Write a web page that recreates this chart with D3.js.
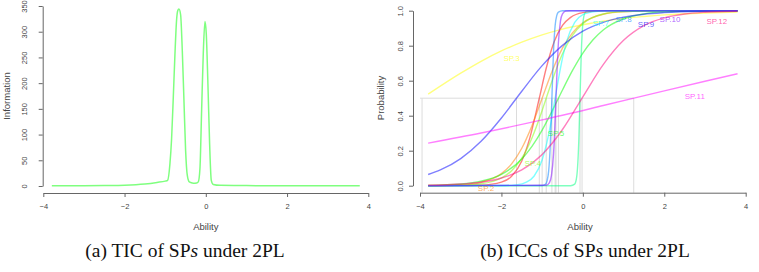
<!DOCTYPE html>
<html><head><meta charset="utf-8">
<script src="https://cdn.jsdelivr.net/npm/d3@7"></script>
<style>
body{margin:0;background:#fff}
svg{display:block}
text{font-family:"Liberation Sans",Arial,sans-serif}
</style>
</head><body>
<svg id="c" width="759" height="272"></svg>
<script>
// ---------- data ----------
const xTicks = [-4, -2, 0, 2, 4];
const infoTicks = [0, 50, 100, 150, 200, 250, 300, 350];
const probTicks = [0, 0.2, 0.4, 0.6, 0.8, 1.0];

// Test information curve (ability, information)
const ticPoints = [
  [-3.79,0.3],[-3,0.5],[-2.5,0.9],[-2,1.6],[-1.5,4],[-1.2,7],[-1.0,9.5],[-0.94,11],
  [-0.883,43],[-0.842,92],[-0.80,173],[-0.76,255],[-0.719,323],[-0.69,341],[-0.661,344],
  [-0.62,333],[-0.579,264],[-0.538,167],[-0.497,69],[-0.456,21],[-0.407,8],[-0.308,5.5],
  [-0.226,6],[-0.185,8],[-0.144,34],[-0.103,147],[-0.062,258],[-0.021,320],[0.011,297],
  [0.052,199],[0.094,82],[0.135,11],[0.184,3],[0.35,1.3],[1,0.8],[2,0.5],[3,0.4],[3.79,0.3]
];

// Item characteristic curves (ability, probability)
const items = ["SP.1","SP.2","SP.3","SP.4","SP.5","SP.6","SP.7","SP.8","SP.9","SP.10","SP.11","SP.12"];
const sp1  = [[-3.8,0],[-3,0.0003],[-2.5,0.0025],[-2,0.020],[-1.75,0.054],[-1.5,0.141],[-1.3,0.275],[-1.07,0.5],[-0.9,0.671],[-0.7,0.825],[-0.5,0.916],[-0.3,0.962],[0,0.989],[0.5,0.999],[1,1],[3.8,1]];
const sp2  = [[-3.8,0.001],[-3,0.0055],[-2.5,0.020],[-2,0.069],[-1.75,0.125],[-1.5,0.214],[-1.25,0.343],[-1,0.5],[-0.75,0.657],[-0.5,0.786],[-0.25,0.875],[0,0.931],[0.5,0.980],[1,0.994],[2,0.999],[3.8,1]];
const sp3  = [[-3.8,0.523],[-3,0.643],[-2.5,0.711],[-2,0.770],[-1.5,0.820],[-1,0.862],[-0.5,0.895],[0,0.920],[0.5,0.940],[1,0.956],[1.5,0.967],[2,0.976],[3,0.987],[3.8,0.992]];
const sp4  = [[-3.8,0],[-3,0.003],[-2.5,0.011],[-2,0.044],[-1.75,0.085],[-1.5,0.157],[-1.25,0.273],[-1,0.430],[-0.9,0.5],[-0.75,0.603],[-0.5,0.754],[-0.25,0.861],[0,0.926],[0.5,0.981],[1,0.995],[2,1],[3.8,1]];
const sp5  = [[-3.8,0.002],[-3,0.010],[-2.5,0.026],[-2,0.065],[-1.5,0.153],[-1.25,0.225],[-1,0.318],[-0.75,0.429],[-0.5,0.547],[-0.25,0.660],[0,0.758],[0.25,0.834],[0.5,0.890],[1,0.954],[1.5,0.982],[2,0.993],[3,0.999],[3.8,1]];
const sp6  = [[-3.8,0],[-0.3,0],[-0.2,0.009],[-0.15,0.053],[-0.1,0.254],[-0.07,0.5],[-0.04,0.746],[0,0.926],[0.05,0.987],[0.1,0.998],[0.3,1],[3.8,1]];
const sp7  = [[-3.8,0],[-2,0.001],[-1.6,0.006],[-1.4,0.019],[-1.2,0.054],[-1,0.147],[-0.9,0.230],[-0.8,0.341],[-0.68,0.5],[-0.6,0.608],[-0.5,0.729],[-0.4,0.823],[-0.2,0.933],[0,0.977],[0.3,0.995],[0.6,0.999],[3.8,1]];
const sp8  = [[-3.8,0],[-1,0.001],[-0.92,0.008],[-0.88,0.027],[-0.84,0.083],[-0.8,0.231],[-0.78,0.354],[-0.76,0.5],[-0.74,0.646],[-0.72,0.769],[-0.68,0.917],[-0.64,0.973],[-0.6,0.992],[-0.5,1],[3.8,1]];
const sp9  = [[-3.8,0.064],[-3.5,0.090],[-3,0.155],[-2.5,0.254],[-2,0.387],[-1.5,0.540],[-1,0.686],[-0.5,0.802],[0,0.883],[0.5,0.933],[1,0.963],[1.5,0.980],[2,0.989],[3,0.997],[3.8,0.999]];
const sp10 = [[-3.8,0],[-0.9,0.0025],[-0.82,0.018],[-0.77,0.060],[-0.72,0.182],[-0.68,0.378],[-0.66,0.5],[-0.64,0.622],[-0.6,0.818],[-0.55,0.940],[-0.5,0.982],[-0.42,0.998],[-0.3,1],[3.8,1]];
const sp11 = [[-3.8,0.243],[-2.5,0.301],[-1,0.376],[0.5,0.458],[2,0.542],[3,0.597],[3.8,0.640]];
const sp12 = [[-3.8,0.003],[-3,0.0095],[-2.5,0.020],[-2,0.044],[-1.5,0.090],[-1,0.178],[-0.5,0.321],[0,0.508],[0.5,0.692],[1,0.831],[1.5,0.915],[2,0.959],[2.5,0.981],[3,0.991],[3.8,0.997]];
const curves = [sp1,sp2,sp3,sp4,sp5,sp6,sp7,sp8,sp9,sp10,sp11,sp12];
// ability where P = 0.5 (grey guide lines)
const difficulty = [-1.07,-1.0,-3.95,-0.9,-0.6,-0.07,-0.68,-0.76,-1.63,-0.66,1.25,-0.02];
// label anchors (ability, probability); null = not visible
const labelAt = [[-2.95,-0.055],[-2.38,-0.014],[-1.75,0.73],[-1.23,0.13],[-0.66,0.30],null,
                 [0.44,0.93],[1.0,0.95],[1.55,0.924],[2.14,0.95],[2.75,0.51],[3.29,0.94]];

// ---------- drawing ----------
const colors = ["#FF0000","#FF8000","#FFFF00","#80FF00","#00FF00","#00FF80",
                "#00FFFF","#0080FF","#0000FF","#8000FF","#FF00FF","#FF0080"];
const svg = d3.select("#c");
svg.append("rect").attr("width",759).attr("height",272).attr("fill","#fff");
const axisCol = "#666", textCol = "#444";

function styleAxis(g, fs){
  g.select(".domain").attr("stroke",axisCol);
  g.selectAll(".tick line").attr("stroke",axisCol);
  g.selectAll(".tick text").attr("fill",textCol).style("font-size",fs+"px").style("font-family","Liberation Sans, Arial, sans-serif");
}
function rotY(g, L){
  g.selectAll(".tick text").attr("transform","rotate(-90)").attr("x",0).attr("y",-L)
    .attr("dy","0.35em").attr("text-anchor","middle");
}

// ----- left panel: TIC -----
const xL = d3.scaleLinear([-4,4],[43.3,368.3]);
const yL = d3.scaleLinear([0,350],[186,6]);
const gxL = svg.append("g").attr("transform","translate(0,193)")
  .call(d3.axisBottom(xL).tickValues(xTicks).tickSize(4).tickSizeOuter(0).tickPadding(7));
styleAxis(gxL, 7.5);
const gyL = svg.append("g").attr("transform","translate(42.7,0)")
  .call(d3.axisLeft(yL).tickValues(infoTicks).tickSize(4).tickSizeOuter(0));
styleAxis(gyL, 7.5); rotY(gyL, 18.5);

svg.append("path").datum(ticPoints)
  .attr("fill","none").attr("stroke","#00FF00").attr("stroke-opacity",0.5).attr("stroke-width",1.5)
  .attr("d", d3.line().x(d=>xL(d[0])).y(d=>yL(d[1])).curve(d3.curveMonotoneX));

svg.append("text").attr("x",205.8).attr("y",227).attr("dy","0.35em").attr("text-anchor","middle")
  .style("font-size","9.5px").attr("fill",textCol).text("Ability");
svg.append("text").attr("transform","translate(6.5,96) rotate(-90)").attr("dy","0.35em").attr("text-anchor","middle")
  .style("font-size","9.5px").attr("fill",textCol).text("Information");

// ----- right panel: ICCs -----
const xR = d3.scaleLinear([-4,4],[420,745.7]);
const yR = d3.scaleLinear([0,1],[185.7,10.7]);
svg.append("defs").append("clipPath").attr("id","plotR").append("rect")
  .attr("x",413).attr("y",yR(1.04)).attr("width",759-413).attr("height",yR(-0.04)-yR(1.04));
const plot = svg.append("g").attr("clip-path","url(#plotR)");

// guide lines
const guide = plot.append("g").attr("stroke","#dcdcdc").attr("stroke-width",1);
guide.append("line").attr("x1",xR(-4)).attr("x2",xR(d3.max(difficulty))).attr("y1",yR(0.5)).attr("y2",yR(0.5));
guide.selectAll("line.v").data(difficulty).join("line").attr("class","v")
  .attr("x1",d=>xR(d)).attr("x2",d=>xR(d)).attr("y1",yR(-0.05)).attr("y2",yR(0.5));

const lineR = d3.line().x(d=>xR(d[0])).y(d=>yR(d[1])).curve(d3.curveMonotoneX);
plot.selectAll("path.icc").data(curves).join("path").attr("class","icc")
  .attr("fill","none").attr("stroke",(d,i)=>colors[i]).attr("stroke-opacity",0.5).attr("stroke-width",1.4)
  .attr("d",lineR);

plot.selectAll("text.lab").data(items.map((n,i)=>({n,i,p:labelAt[i]})).filter(d=>d.p))
  .join("text").attr("class","lab")
  .attr("x",d=>xR(d.p[0])).attr("y",d=>yR(d.p[1])).attr("dy","0.35em").attr("text-anchor","middle")
  .style("font-size","8px").attr("fill",d=>colors[d.i]).attr("fill-opacity",0.65).text(d=>d.n);

const gxR = svg.append("g").attr("transform","translate(0,192.7)")
  .call(d3.axisBottom(xR).tickValues(xTicks).tickSize(4).tickSizeOuter(0).tickPadding(7));
styleAxis(gxR, 7.5);
const gyR = svg.append("g").attr("transform","translate(413,0)")
  .call(d3.axisLeft(yR).tickValues(probTicks).tickFormat(d3.format(".1f")).tickSize(4).tickSizeOuter(0));
styleAxis(gyR, 7.5); rotY(gyR, 13);

svg.append("text").attr("x",580).attr("y",226.7).attr("dy","0.35em").attr("text-anchor","middle")
  .style("font-size","9.5px").attr("fill",textCol).text("Ability");
svg.append("text").attr("transform","translate(381,98) rotate(-90)").attr("dy","0.35em").attr("text-anchor","middle")
  .style("font-size","9.5px").attr("fill",textCol).text("Probability");

// ----- captions -----
function caption(x, pre, post){
  const t = svg.append("text").attr("x",x).attr("y",257).attr("text-anchor","middle")
    .style("font-family","Liberation Serif, Times New Roman, serif").style("font-size","19.5px").attr("fill","#111");
  t.append("tspan").text(pre);
  t.append("tspan").style("font-style","italic").text("s");
  t.append("tspan").text(post);
}
caption(185, "(a) TIC of SP", " under 2PL");
caption(585, "(b) ICCs of SP", " under 2PL");
</script>
</body></html>
